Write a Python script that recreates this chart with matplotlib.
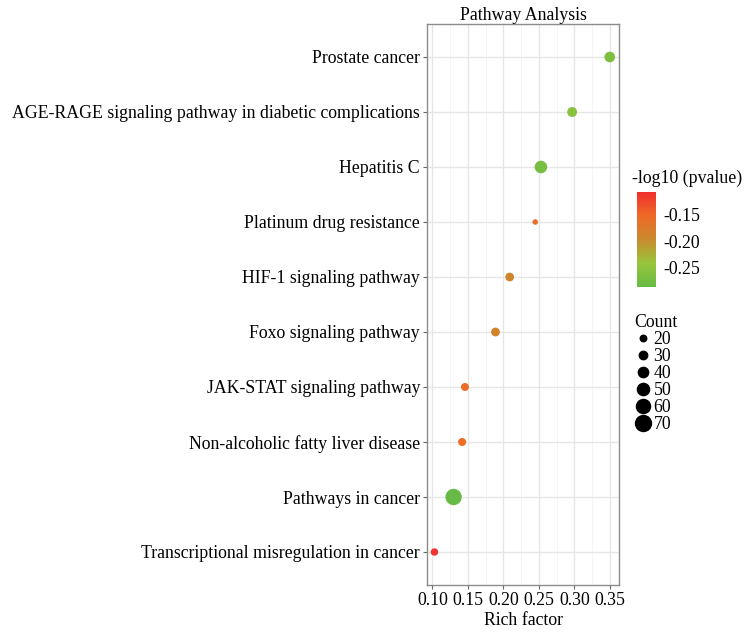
import numpy as np
import matplotlib
matplotlib.use("Agg")
import matplotlib.pyplot as plt
from matplotlib.colors import LinearSegmentedColormap, Normalize
from matplotlib.lines import Line2D

pathways = [
    "Prostate cancer",
    "AGE-RAGE signaling pathway in diabetic complications",
    "Hepatitis C",
    "Platinum drug resistance",
    "HIF-1 signaling pathway",
    "Foxo signaling pathway",
    "JAK-STAT signaling pathway",
    "Non-alcoholic fatty liver disease",
    "Pathways in cancer",
    "Transcriptional misregulation in cancer",
]
rich_factor = [0.350, 0.297, 0.253, 0.245, 0.209, 0.189, 0.146, 0.142, 0.130, 0.103]
neg_log_p = [-0.265, -0.255, -0.270, -0.160, -0.190, -0.185, -0.157, -0.152, -0.285, -0.110]
counts = [42, 38, 52, 15, 32, 32, 28, 28, 72, 25]

legend_counts = [20, 30, 40, 50, 60, 70]
x_ticks = [0.10, 0.15, 0.20, 0.25, 0.30, 0.35]

plt.rcParams["font.family"] = ["Liberation Serif", "DejaVu Serif"]
FS = 12.8

cmap = LinearSegmentedColormap.from_list(
    "pv", ["#66BA45", "#98C53B", "#C98A2E", "#EF6A27", "#F02F2F"])
norm = Normalize(vmin=-0.286, vmax=-0.107)


def marker_size(c):
    d = 6.5 + (c - 20) * 0.19  # diameter in px
    return (d * 0.72) ** 2


fig = plt.figure(figsize=(7.44, 6.36), dpi=100)
ax = fig.add_axes([427 / 744, 1 - 585 / 636, 192 / 744, 561 / 636])

y = np.arange(len(pathways))[::-1]
ax.scatter(rich_factor, y, s=[marker_size(c) for c in counts],
           c=neg_log_p, cmap=cmap, norm=norm, zorder=3, linewidths=0)

ax.set_xlim(0.0925, 0.363)
ax.set_ylim(-0.6, len(pathways) - 0.4)
ax.set_yticks(y)
ax.set_yticklabels(pathways, fontsize=FS)
ax.set_xticks(x_ticks)
ax.set_xticklabels([f"{t:.2f}" for t in x_ticks], fontsize=FS)
ax.set_xticks([0.125, 0.175, 0.225, 0.275, 0.325], minor=True)
ax.grid(True, which="major", color="#E6E6E6", linewidth=1.0, zorder=0)
ax.grid(True, which="minor", axis="x", color="#F2F2F2", linewidth=0.6, zorder=0)
ax.set_axisbelow(True)
ax.tick_params(axis="both", which="major", length=3, color="#666666", pad=2)
ax.tick_params(axis="x", which="minor", length=0)
for sp in ax.spines.values():
    sp.set_color("#8C8C8C")
    sp.set_linewidth(1.0)
ax.set_xlabel("Rich factor", fontsize=FS, labelpad=2)
ax.set_title("Pathway Analysis", fontsize=FS, pad=2)

# colour bar
cax = fig.add_axes([637 / 744, 1 - 287 / 636, 19 / 744, 95 / 636])
cb = fig.colorbar(plt.cm.ScalarMappable(norm=norm, cmap=cmap), cax=cax)
cb.set_ticks([-0.15, -0.20, -0.25])
cb.set_ticklabels(["-0.15", "-0.20", "-0.25"])
cb.ax.tick_params(labelsize=FS, length=3, color="white", pad=2)
cb.outline.set_visible(False)
fig.text(632 / 744, 1 - 178 / 636, "-log10 (pvalue)", fontsize=FS, va="center", ha="left")

# size legend
handles = [Line2D([], [], linestyle="", marker="o", color="black",
                  markersize=np.sqrt(marker_size(c))) for c in legend_counts]
leg = fig.legend(handles, [str(c) for c in legend_counts], title="Count",
                 loc="upper left", bbox_to_anchor=(625 / 744, 1 - 305 / 636),
                 frameon=False, fontsize=FS, title_fontsize=FS,
                 handletextpad=0.1, labelspacing=0.0, borderpad=0,
                 handlelength=1.0)
leg._legend_box.align = "left"

fig.savefig("out.png", dpi=100)
